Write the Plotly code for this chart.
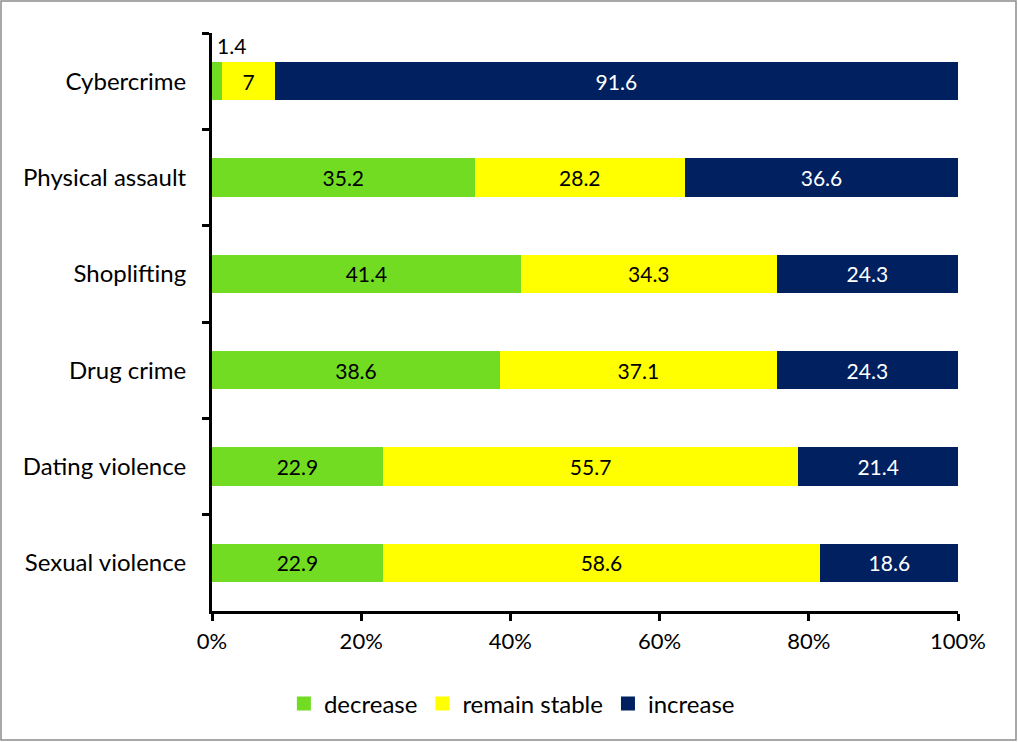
import plotly.graph_objects as go

categories = ["Cybercrime", "Physical assault", "Shoplifting", "Drug crime", "Dating violence", "Sexual violence"]
decrease = [1.4, 35.2, 41.4, 38.6, 22.9, 22.9]
remain_stable = [7, 28.2, 34.3, 37.1, 55.7, 58.6]
increase = [91.6, 36.6, 24.3, 24.3, 21.4, 18.6]
x_ticks = [0, 20, 40, 60, 80, 100]
x_tick_labels = ["0%", "20%", "40%", "60%", "80%", "100%"]

FONT = "Lato"
fig = go.Figure()

def labels(vals, skip_small=True):
    return [("" if (skip_small and v < 3) else f"{v:g}") for v in vals]

series = [
    ("decrease", decrease, "#71DC22", "black"),
    ("remain stable", remain_stable, "#FFFF00", "black"),
    ("increase", increase, "#002060", "white"),
]
for name, vals, color, tcolor in series:
    fig.add_trace(go.Bar(
        name=name, y=categories, x=vals, orientation="h",
        marker=dict(color=color, line=dict(width=0)),
        text=labels(vals), textposition="inside", insidetextanchor="middle",
        textangle=0, constraintext="none",
        textfont=dict(family=FONT, size=21, color=tcolor),
        hoverinfo="skip", showlegend=False,
    ))

# legend entries with larger square swatches
for name, vals, color, tcolor in series:
    fig.add_trace(go.Scatter(
        name=name, x=[None], y=[None], mode="markers",
        marker=dict(symbol="square", size=14, color=color, line=dict(width=0)),
        showlegend=True, hoverinfo="skip",
    ))

# small value label above the tiny segment
for cat, v in zip(categories, decrease):
    if v < 3:
        fig.add_annotation(x=0, y=cat, text=f"{v:g}", showarrow=False,
                           xanchor="left", yanchor="bottom", xshift=3, yshift=21,
                           font=dict(family=FONT, size=21, color="black"))

fig.update_layout(
    barmode="stack",
    bargap=0.6,
    width=1018, height=742,
    margin=dict(l=212, r=60, t=33, b=131),
    paper_bgcolor="white", plot_bgcolor="white",
    font=dict(family=FONT, size=21, color="black"),
    showlegend=True,
    legend=dict(orientation="h", x=0.402, xanchor="center", y=-0.122, yanchor="top",
                font=dict(family=FONT, size=24), traceorder="normal",
                itemsizing="trace", itemwidth=30),
    xaxis=dict(range=[0, 100], tickvals=x_ticks, ticktext=x_tick_labels,
               showgrid=False, zeroline=False, showline=True, linecolor="black",
               linewidth=3, ticks="outside", ticklen=7, tickwidth=3, tickcolor="black",
               tickfont=dict(family=FONT, size=22), ticklabelstandoff=2, fixedrange=True),
    yaxis=dict(autorange="reversed", showgrid=False, zeroline=False, showline=True,
               linecolor="black", linewidth=3, ticks="outside", ticklen=7, tickwidth=3,
               tickcolor="black", tickson="boundaries",
               tickfont=dict(family=FONT, size=24), ticklabelstandoff=18),
)

# outer chart border
fig.add_shape(type="rect", xref="paper", yref="paper",
              x0=-211/746, x1=(1016-212)/746, y0=(611-740)/578, y1=(611-1)/578,
              line=dict(color="#8c8c8c", width=1.5), fillcolor="rgba(0,0,0,0)", layer="below")

fig.write_html("out.html", config={"displayModeBar": False})
